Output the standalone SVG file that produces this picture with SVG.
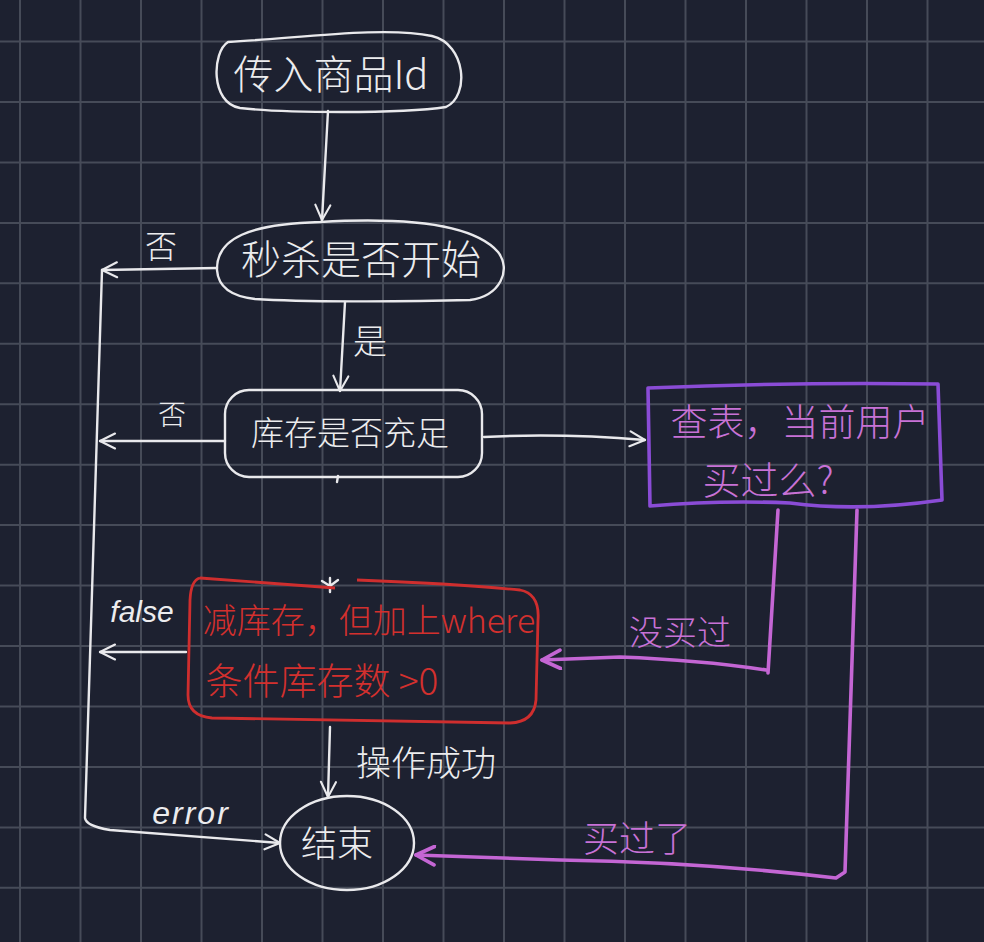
<svg xmlns="http://www.w3.org/2000/svg" width="984" height="942" viewBox="0 0 984 942">
<defs>
<style>
.bg{fill:#1d2130}
.grid line{stroke:#464b58;stroke-width:2}
.w{fill:none;stroke:#e9e9ec;stroke-width:2.4;stroke-linecap:round;stroke-linejoin:round}
.p{fill:none;stroke:#c466d4;stroke-width:3.6;stroke-linecap:round;stroke-linejoin:round}
.pb{fill:none;stroke:#8a4cd6;stroke-width:3.6;stroke-linejoin:round}
.r{fill:none;stroke:#cf2e2e;stroke-width:2.8;stroke-linejoin:round}
.t{font-family:"Noto Sans CJK SC","Liberation Sans",sans-serif;text-anchor:middle;font-weight:300}
.tw{fill:#ececee}
.tp{fill:#c872d6}
.tr{fill:#d3302e}
.lat{font-family:"Liberation Sans","Noto Sans CJK SC",sans-serif;font-style:italic;fill:#ececee;text-anchor:middle}
</style>
<marker id="aw" viewBox="0 0 12 12" refX="11" refY="6" markerWidth="18" markerHeight="18" markerUnits="userSpaceOnUse" orient="auto">
<path d="M1,1 L11,6 L1,11" fill="none" stroke="#e9e9ec" stroke-width="1.4" stroke-linecap="round" stroke-linejoin="round"/>
</marker>
<marker id="ap" viewBox="0 0 12 12" refX="11" refY="6" markerWidth="22" markerHeight="22" markerUnits="userSpaceOnUse" orient="auto">
<path d="M1,1 L11,6 L1,11" fill="none" stroke="#c466d4" stroke-width="2" stroke-linecap="round" stroke-linejoin="round"/>
</marker>
</defs>
<rect class="bg" x="0" y="0" width="984" height="942"/>
<g class="grid">
<line x1="20" y1="0" x2="20" y2="942"/>
<line x1="80.5" y1="0" x2="80.5" y2="942"/>
<line x1="141" y1="0" x2="141" y2="942"/>
<line x1="201.5" y1="0" x2="201.5" y2="942"/>
<line x1="262" y1="0" x2="262" y2="942"/>
<line x1="322.5" y1="0" x2="322.5" y2="942"/>
<line x1="383" y1="0" x2="383" y2="942"/>
<line x1="443.5" y1="0" x2="443.5" y2="942"/>
<line x1="504" y1="0" x2="504" y2="942"/>
<line x1="564.5" y1="0" x2="564.5" y2="942"/>
<line x1="625" y1="0" x2="625" y2="942"/>
<line x1="685.5" y1="0" x2="685.5" y2="942"/>
<line x1="746" y1="0" x2="746" y2="942"/>
<line x1="806.5" y1="0" x2="806.5" y2="942"/>
<line x1="867" y1="0" x2="867" y2="942"/>
<line x1="927.5" y1="0" x2="927.5" y2="942"/>
<line x1="0" y1="41.5" x2="984" y2="41.5"/>
<line x1="0" y1="102" x2="984" y2="102"/>
<line x1="0" y1="162.4" x2="984" y2="162.4"/>
<line x1="0" y1="222.9" x2="984" y2="222.9"/>
<line x1="0" y1="283.3" x2="984" y2="283.3"/>
<line x1="0" y1="343.8" x2="984" y2="343.8"/>
<line x1="0" y1="404.2" x2="984" y2="404.2"/>
<line x1="0" y1="464.7" x2="984" y2="464.7"/>
<line x1="0" y1="525.1" x2="984" y2="525.1"/>
<line x1="0" y1="585.6" x2="984" y2="585.6"/>
<line x1="0" y1="646" x2="984" y2="646"/>
<line x1="0" y1="706.5" x2="984" y2="706.5"/>
<line x1="0" y1="767" x2="984" y2="767"/>
<line x1="0" y1="827.4" x2="984" y2="827.4"/>
<line x1="0" y1="887.8" x2="984" y2="887.8"/>
</g>

<g id="connectors">
<path class="w" d="M328,111 L322,220" marker-end="url(#aw)"/>
<path class="w" d="M217,268 L102,270" marker-end="url(#aw)"/>
<path class="w" d="M102,270 L85,818 Q86,826 110,830 L280,843" marker-end="url(#aw)"/>
<path class="w" d="M345,302 L340,391" marker-end="url(#aw)"/>
<path class="w" d="M225,441 L100,441" marker-end="url(#aw)"/>
<path class="w" d="M484,437 Q560,433 645,440" marker-end="url(#aw)"/>
<path class="w" d="M186,652 L100,652" marker-end="url(#aw)"/>
<path class="w" d="M330,727 L328,797" marker-end="url(#aw)"/>
<path class="p" d="M778,510 L768,673 M766,670 Q700,660 620,657 L542,660" marker-end="url(#ap)"/>
<path class="p" d="M857,510 L845,872 L836,878 Q700,862 560,860 L416,855" marker-end="url(#ap)"/>
<path class="w" d="M322,581 L330,586 L338,580 M330,578 L330,592" stroke-width="1.6"/>
<path class="w" d="M338,476 L337,482" stroke-width="1.6"/>
</g>

<g id="n-start">
<path class="w" d="M228,42 C300,38 385,26 432,36 C466,44 470,96 446,107 C400,114 282,113 240,108 C210,103 212,52 228,42 Z"/>
<text class="t tw" x="331" y="89" font-size="40">传入商品Id</text>
</g>

<g id="n-begin">
<path class="w" d="M217,270 C216,238 250,224 320,222 C390,218 470,220 498,252 C512,270 500,296 470,300 C400,302 300,302 255,299 C228,296 218,285 217,270 Z"/>
<text class="t tw" x="361" y="274" font-size="40">秒杀是否开始</text>
</g>

<g id="n-stock">
<rect class="w" x="225" y="390" width="257" height="87" rx="24"/>
<text class="t tw" x="350" y="445" font-size="33">库存是否充足</text>
</g>

<g id="n-query">
<path class="pb" d="M648,388 Q790,382 938,384 L942,500 Q860,512 790,503 Q720,500 650,506 Z"/>
<text class="t tp" x="800" y="436" font-size="37">查表，当前用户</text>
<text class="t tp" x="768" y="494" font-size="38">买过么?</text>
</g>

<g id="n-deduct">
<path class="r" d="M200,578 L335,588 M357,580 Q460,584 520,590 Q540,594 538,620 L536,700 Q534,722 510,723 L212,718 Q188,716 188,695 L190,600 Q191,580 200,578"/>
<text class="t tr" x="369" y="633" font-size="34">减库存，但加上where</text>
<text class="t tr" x="322" y="695" font-size="37">条件库存数 &gt;0</text>
</g>

<g id="n-end">
<ellipse class="w" cx="347" cy="843" rx="67" ry="47"/>
<text class="t tw" x="337" y="857" font-size="36">结束</text>
</g>

<g id="labels">
<text class="t tw" x="161" y="258" font-size="32">否</text>
<text class="t tw" x="370" y="354" font-size="34">是</text>
<text class="t tw" x="172" y="425" font-size="28">否</text>
<text class="lat" x="142" y="622" font-size="30">false</text>
<text class="t tw" x="426" y="776" font-size="35">操作成功</text>
<text class="lat" x="191" y="824" font-size="32" letter-spacing="2">error</text>
<text class="t tp" x="680" y="645" font-size="34">没买过</text>
<text class="t tp" x="637" y="852" font-size="36">买过了</text>
</g>
</svg>
